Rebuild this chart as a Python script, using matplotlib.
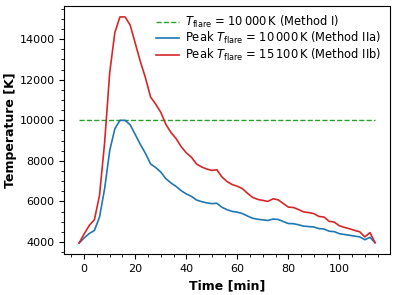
import numpy as np
import matplotlib
matplotlib.use('Agg')
import matplotlib.pyplot as plt
from matplotlib.ticker import AutoMinorLocator

# time grid (min) and temperatures (K)
time_min = np.arange(-2, 115, 2)

temp_iib = [3950, 4400, 4820, 5100, 6300, 8900, 12360, 14330, 15100, 15100,
            14700, 13800, 12900, 12100, 11150, 10800, 10400, 9800, 9400, 9100,
            8700, 8400, 8180, 7850, 7700, 7600, 7530, 7560, 7200, 6980,
            6830, 6750, 6630, 6400, 6200, 6100, 6050, 6000, 6130, 6080,
            5900, 5720, 5700, 5600, 5480, 5450, 5400, 5260, 5230, 5020,
            4980, 4800, 4720, 4650, 4570, 4500, 4250, 4460, 3970]

temp_iia = [3950, 4200, 4420, 4570, 5230, 6630, 8510, 9580, 10000, 10000,
            9780, 9300, 8810, 8370, 7850, 7670, 7450, 7120, 6910, 6740,
            6530, 6370, 6250, 6070, 5990, 5930, 5890, 5910, 5710, 5590,
            5510, 5470, 5400, 5280, 5170, 5120, 5090, 5060, 5130, 5110,
            5010, 4910, 4900, 4850, 4780, 4760, 4740, 4660, 4640, 4530,
            4510, 4410, 4370, 4330, 4290, 4250, 4110, 4230, 3960]

t_flare_const = 10000

fig = plt.figure(figsize=(3.97, 2.95), dpi=100)
ax = fig.add_axes([0.162, 0.138, 0.82, 0.843])

ax.plot(time_min, np.full(len(time_min), t_flare_const), '--', color='tab:green', lw=1.0,
        label=r'$T_{\rm flare}$ = 10$\,$000$\,$K (Method I)')
ax.plot(time_min, temp_iia, color='tab:blue', lw=1.2,
        label=r'Peak $T_{\rm flare}$ = 10$\,$000$\,$K (Method IIa)')
ax.plot(time_min, temp_iib, color='tab:red', lw=1.2,
        label=r'Peak $T_{\rm flare}$ = 15$\,$100$\,$K (Method IIb)')

ax.set_xlabel('Time [min]', fontweight='bold', fontsize=9)
ax.set_ylabel('Temperature [K]', fontweight='bold', fontsize=9, labelpad=2)
ax.xaxis.set_minor_locator(AutoMinorLocator())
ax.yaxis.set_minor_locator(AutoMinorLocator())
ax.tick_params(labelsize=8)
ax.legend(loc='upper right', frameon=False, fontsize=8.3, labelspacing=0.05,
          handlelength=2.0, handletextpad=0.6, borderaxespad=0.3)

fig.savefig('out.png', dpi=100)
